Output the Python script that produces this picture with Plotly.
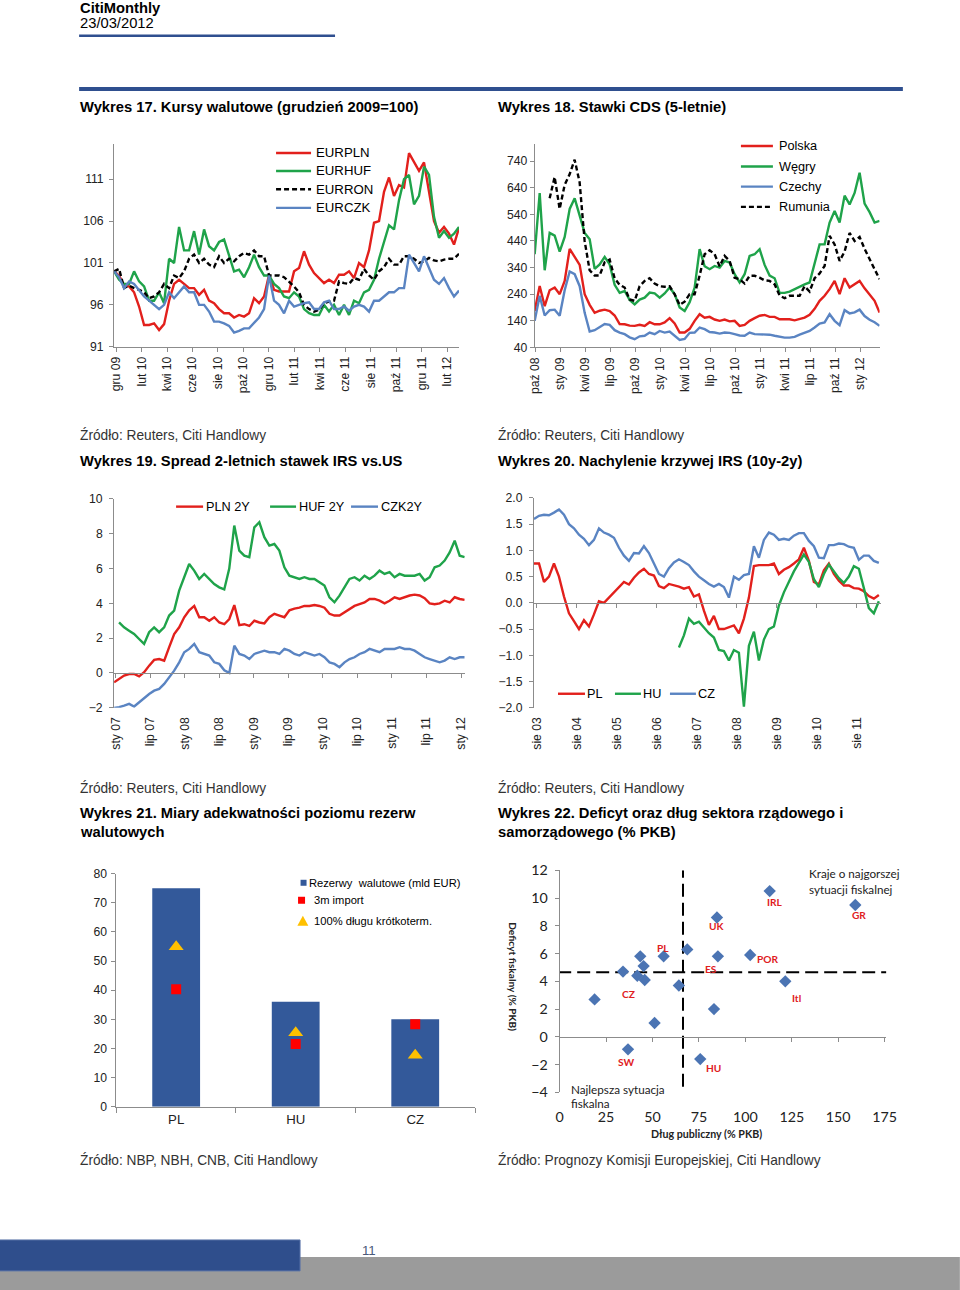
import numpy as np
import plotly.graph_objects as go

W, H = 960, 1290
# the photographed page is padded by 8px and scaled to 960x1290: pre-compensate
SX, SY = 960 / 976, 1290 / 1306
def X(px): return (px / SX - 8) / W
def Y(py): return 1 - (py / SY - 8) / H
K = 1 / SX
def F(s): return round(s * K, 2)

SANS = "Liberation Sans, Arial, sans-serif"
CAL = "Lato, Carlito, Calibri, sans-serif"
RED = "#E2201C"; GREEN = "#1FA34A"; BLUE = "#5A84C2"; BLK = "#000000"
NAVY = "#2F4F8F"; BARC = "#33599A"; AXC = "#8C8C8C"; TXT = "#222222"
LW = 2.4

# ---------------- DATA ----------------
# Wykres 17 (months since Dec 2009)
T17 = ["gru 09","lut 10","kwi 10","cze 10","sie 10","paź 10","gru 10","lut 11","kwi 11","cze 11","sie 11","paź 11","gru 11","lut 12"]
M17 = (-0.157, 26.94)
EURPLN = [100,99.5,98.3,98.2,97.5,95.8,93.6,93.6,93.8,93.0, 93.7,96.5,98.5,99.0,98.5,98.0,98.0,97.2,97.8,96.5,
          96.2,95.5,95.0,95.0,94.5,94.8,94.6,95.0,96.8,96.2, 97.0,99.6,97.8,97.6,97.6,97.6,100.0,100.4,102.4,100.8,
          99.8,99.2,98.6,99.0,98.6,99.6,99.6,100.0,99.2,101.0, 100.5,102.5,105.8,106.0,109.5,111.2,109.0,110.3,110.0,114.1,
          113.0,112.0,113.0,109.5,106.0,104.6,105.3,104.5,103.2,105.2]
EURHUF = [100,99,98.5,98.5,100,98.8,98.2,96.5,96.5,97.5, 96.2,101.5,101.0,105.3,102.5,102.5,104.8,102.0,105.0,103.0,
          102.5,103.5,103.8,102.0,100.0,100.2,99.3,100.5,102.0,100.5, 99.5,99.5,98.5,98.0,97.0,96.8,97.5,97.0,95.5,95.0,
          94.8,94.8,96.0,95.2,96.0,94.8,96.0,94.8,96.5,96.2, 97.5,97.8,99.0,101.5,103.5,105.5,105.0,108.5,111.0,111.5,
          108.0,109.0,112.5,111.5,106.5,104.0,104.8,104.0,104.5,105.3]
EURRON = [100,100.3,98.0,98.3,98.0,97.8,97.5,96.8,97.0,97.5, 98.5,98.0,99.5,99.2,100.0,101.5,102.0,101.0,101.5,100.8,
          100.5,101.8,101.0,101.5,101.2,101.8,102.2,102.0,102.5,101.8, 101.8,99.5,99.5,99.5,99.3,98.8,98.2,97.5,96.0,95.5,
          95.2,95.4,96.2,96.4,96.5,98.8,98.6,98.5,99.2,99.0, 100.3,99.5,99.0,100.0,100.5,101.5,100.8,100.8,101.8,101.8,
          101.5,101.0,101.2,101.6,101.3,101.2,101.4,101.5,101.5,102.1]
EURCZK = [100,99.3,98.0,98.8,98.5,97.8,97.0,96.5,96.0,95.5, 96.0,97.5,96.8,97.5,98.2,97.5,97.5,96.0,96.0,95.2,
          94.0,94.0,93.8,93.5,92.7,92.9,93.2,93.2,93.8,94.5, 95.5,99.5,96.5,96.0,95.0,96.5,95.8,96.0,96.2,96.3,
          95.5,95.5,96.3,96.5,95.5,95.5,95.8,95.3,95.8,96.0, 95.8,95.2,96.5,96.5,97.0,97.5,97.5,98.0,98.0,102.0,
          101.0,100.0,101.8,100.5,99.0,98.5,99.2,98.0,97.0,97.7]

# Wykres 18 (months since Oct 2008)
T18 = ["paź 08","sty 09","kwi 09","lip 09","paź 09","sty 10","kwi 10","lip 10","paź 10","sty 11","kwi 11","lip 11","paź 11","sty 12"]
M18 = (-0.096, 41.32)
M18_RO_START = 1.70
POLSKA = [177,271,195,255,265,240,290,410,380,350,240,200,170,178,182,177,160,128,127,122,121,125,121,135,127,127,134,150,130,96,96,110,140,165,152,
          155,145,140,145,138,140,121,125,140,150,159,162,155,155,146,146,146,142,146,152,163,185,215,234,259,290,240,300,265,277,290,262,240,215,171]
WEGRY = [390,620,330,470,460,400,455,560,600,534,470,446,335,352,380,352,275,245,252,218,202,220,227,246,243,227,243,265,240,190,177,210,265,409,345,
         334,346,340,365,359,315,284,315,384,390,409,350,310,300,245,245,250,260,270,277,284,360,427,427,509,552,509,610,577,620,696,580,548,509,515]
CZECHY = [140,234,160,180,182,159,255,325,315,270,170,100,105,115,128,125,105,96,90,78,71,82,84,96,90,102,96,100,85,68,72,95,96,115,109,
          98,96,92,96,95,90,85,84,96,90,90,90,88,84,80,77,77,80,88,95,102,115,130,134,165,140,124,180,168,172,182,158,144,135,121]
RUMUNIA = [600,680,560,650,690,745,660,440,330,310,310,360,370,300,275,265,220,215,270,290,300,280,270,268,270,240,200,212,240,240,310,390,
           405,390,345,384,365,302,296,280,309,309,302,292,290,277,235,225,234,234,234,270,250,300,318,346,459,427,365,400,470,440,455,410,370,335,296]

# Wykres 19 (months since Jan 2007)
T19 = ["sty 07","lip 07","sty 08","lip 08","sty 09","lip 09","sty 10","lip 10","sty 11","lip 11","sty 12"]
M19 = (-0.26, 60.63)
M19_HUF_START = 0.6
PLN2Y = [-0.54,-0.34,-0.15,-0.06,-0.06,-0.2,0.04,0.42,0.75,0.8, 0.7,1.48,2.24,2.62,3.2,3.6,3.85,3.2,3.2,3.0,
         3.2,2.9,2.8,3.1,3.9,2.75,2.8,2.7,3.0,2.9, 2.85,3.2,3.4,3.3,3.2,3.6,3.7,3.75,3.85,3.85,
         3.9,3.85,3.75,3.4,3.3,3.3,3.5,3.7,3.85,3.95, 4.05,4.25,4.25,4.15,4.0,4.15,4.35,4.25,4.35,4.45,
         4.5,4.45,4.3,4.0,3.95,4.0,4.15,4.05,4.35,4.25,4.2]
HUF2Y = [2.91,2.62,2.43,2.24,1.95,1.67,2.34,2.62,2.34, 2.62,3.30,3.58,4.73,5.50,6.26,5.88,5.40,5.69,5.40,
         5.11,4.92,4.8,6.0,8.47,7.03,6.74,6.65,8.37,8.66, 7.80,7.32,7.41,7.03,6.07,5.59,5.50,5.40,5.50,5.40,
         5.40,5.21,5.02,4.35,4.06,4.44,4.92,5.40,5.50,5.31, 5.59,5.40,5.59,5.88,5.69,5.79,5.50,5.69,5.59,5.59,
         5.59,5.69,5.31,5.50,6.07,6.17,6.46,6.93,7.60,6.74, 6.65]
CZK2Y = [-2.01,-1.97,-1.88,-1.78,-1.93,-1.69,-1.40,-1.21,-1.02,-0.92, -0.63,-0.25,0.13,0.61,1.19,1.38,1.67,1.19,1.09,1.00,
         0.61,0.52,0.15,0.0,1.57,1.09,1.00,0.80,1.09,1.19, 1.28,1.19,1.19,1.09,1.38,1.28,1.09,1.00,1.19,1.09,
         1.00,1.09,0.90,0.61,0.52,0.33,0.61,0.80,0.90,1.09, 1.19,1.38,1.28,1.19,1.38,1.38,1.38,1.48,1.38,1.38,
         1.28,1.09,0.90,0.80,0.71,0.61,0.71,0.90,0.80,0.90, 0.90]

# Wykres 20 (months since Aug 2003)
T20 = ["sie 03","sie 04","sie 05","sie 06","sie 07","sie 08","sie 09","sie 10","sie 11"]
M20 = (-0.84, 102.66)
M20_RANGE_END = 103.18
M20_HU_START = 42.66
PL = [0.75,0.75,0.4,0.5,0.75,0.5,0.12,-0.2,-0.35,-0.5, -0.33,-0.45,-0.22,0.03,0.0,0.1,0.2,0.28,0.4,0.35,
      0.48,0.58,0.65,0.55,0.52,0.32,0.28,0.36,0.34,0.31, 0.27,0.3,0.12,0.16,-0.15,-0.42,-0.25,-0.5,-0.5,-0.46,
      -0.43,-0.58,-0.3,0.1,0.7,0.72,0.72,0.72,0.75,0.55, 0.63,0.68,0.75,0.83,1.05,0.8,0.4,0.35,0.62,0.75,
      0.55,0.42,0.33,0.33,0.28,0.27,0.22,0.13,0.08,0.15]
CZ = [1.6,1.66,1.68,1.67,1.72,1.78,1.68,1.5,1.42,1.3, 1.22,1.1,1.2,1.42,1.34,1.3,1.24,1.05,0.9,0.8,
      0.95,0.94,1.08,0.95,0.75,0.55,0.5,0.66,0.77,0.83, 0.78,0.72,0.6,0.5,0.43,0.36,0.31,0.36,0.3,0.1,
      0.5,0.44,0.53,0.55,1.08,0.86,1.2,1.34,1.3,1.2, 1.22,1.2,1.28,1.33,1.33,1.18,1.08,0.86,0.85,1.1,
      1.1,1.13,1.12,1.07,1.05,0.82,0.9,0.9,0.8,0.76]
HU = [-0.85,-0.62,-0.3,-0.4,-0.36,-0.48,-0.58,-0.66,-0.9,-0.92, -1.1,-0.9,-0.95,-1.98,-0.82,-0.55,-1.1,-0.7,-0.5,-0.45,
      -0.05,0.2,0.4,0.6,0.76,0.92,0.78,0.45,0.3,0.55, 0.73,0.6,0.47,0.38,0.5,0.7,0.65,0.28,-0.1,-0.2, 0.03]

# Wykres 21
CATS21 = ["PL", "HU", "CZ"]
REZERWY = [75, 36, 30]
IMPORT3M = [40.3, 21.5, 28.3]
DLUG_KROTKI = [54.9, 25.4, 17.7]

# Wykres 22
DLUG = [18.8, 34.1, 41.8, 43.4, 45.2, 45.8, 51.1, 56.0, 36.8, 64.2, 68.7, 75.7, 83.1, 84.7, 85.2, 102.6, 113.1, 121.5, 159.2]
DEFICYT = [2.7, 4.7, 4.4, 5.8, 5.1, 4.1, 1.0, 5.8, -0.9, 3.7, 6.3, -1.6, 2.0, 8.6, 5.8, 5.9, 10.5, 4.0, 9.5]
DLUG_PROG = 66.4
DEFICYT_PROG = 4.65
# ----------------------------------------

fig = go.Figure()
shapes, annots = [], []

def add_line(vals, x0, x1, color, xa, ya, dash="solid", width=LW):
    fig.add_trace(go.Scatter(x=np.linspace(x0, x1, len(vals)), y=vals, mode="lines",
                             line=dict(color=color, width=width, dash=dash),
                             xaxis=xa, yaxis=ya, showlegend=False, hoverinfo="skip"))

def dummy(xa, ya):
    fig.add_trace(go.Scatter(x=[None], y=[None], xaxis=xa, yaxis=ya, showlegend=False, hoverinfo="skip"))

def txt(x, y, s, size, bold=False, color="#000", anchor="left", family=SANS, angle=0):
    annots.append(dict(xref="paper", yref="paper", x=X(x), y=Y(y), text=f"<b>{s}</b>" if bold else s,
                       showarrow=False, xanchor=anchor, yanchor="middle", textangle=angle,
                       font=dict(family=family, size=F(size), color=color), borderpad=0))

def seg(x0, x1, y, color, dash="solid", width=LW):
    shapes.append(dict(type="line", xref="paper", yref="paper", x0=X(x0), x1=X(x1), y0=Y(y), y1=Y(y),
                       line=dict(color=color, width=width, dash=dash)))

def rect(x0, y0, x1, y1, color, line=None):
    shapes.append(dict(type="rect", xref="paper", yref="paper", x0=X(x0), x1=X(x1), y0=Y(y1), y1=Y(y0),
                       fillcolor=color, line=line or dict(width=0), layer="below"))

DASH = "5px,3px"
# chart 17
add_line(EURPLN, *M17, RED, "x", "y")
add_line(EURHUF, *M17, GREEN, "x", "y")
add_line(EURRON, *M17, BLK, "x", "y", dash=DASH)
add_line(EURCZK, *M17, BLUE, "x", "y")
# chart 18
add_line(POLSKA, *M18, RED, "x2", "y2")
add_line(WEGRY, *M18, GREEN, "x2", "y2")
add_line(CZECHY, *M18, BLUE, "x2", "y2")
add_line(RUMUNIA, M18_RO_START, M18[1], BLK, "x2", "y2", dash=DASH)
# chart 19
add_line(PLN2Y, *M19, RED, "x3", "y3")
add_line(HUF2Y, M19_HUF_START, M19[1], GREEN, "x3", "y3")
add_line(CZK2Y, *M19, BLUE, "x3", "y3")
dummy("x7", "y3")
# chart 20
add_line(PL, *M20, RED, "x4", "y4")
add_line(HU, M20_HU_START, M20[1], GREEN, "x4", "y4")
add_line(CZ, *M20, BLUE, "x4", "y4")
dummy("x8", "y4")
# chart 21
fig.add_trace(go.Bar(x=CATS21, y=REZERWY, width=0.4, marker=dict(color=BARC, line=dict(width=0)),
                     xaxis="x5", yaxis="y5", showlegend=False, hoverinfo="skip"))
fig.add_trace(go.Scatter(x=CATS21, y=IMPORT3M, mode="markers", marker=dict(symbol="square", size=10, color="#FF0000"),
                         xaxis="x5", yaxis="y5", showlegend=False, hoverinfo="skip"))
fig.add_trace(go.Scatter(x=CATS21, y=DLUG_KROTKI, mode="markers", marker=dict(symbol="triangle-up", size=13, color="#FFC000"),
                         xaxis="x5", yaxis="y5", showlegend=False, hoverinfo="skip"))
# chart 22
fig.add_trace(go.Scatter(x=[DLUG_PROG, DLUG_PROG], y=[-3.6, 12.0], mode="lines", line=dict(color=BLK, width=2, dash="13px,6px"),
                         xaxis="x6", yaxis="y6", showlegend=False, hoverinfo="skip", cliponaxis=False))
fig.add_trace(go.Scatter(x=[-0.8, 175.9], y=[DEFICYT_PROG, DEFICYT_PROG], mode="lines", line=dict(color=BLK, width=2, dash="13px,6px"),
                         xaxis="x6", yaxis="y6", showlegend=False, hoverinfo="skip", cliponaxis=False))
fig.add_trace(go.Scatter(x=DLUG, y=DEFICYT, mode="markers", marker=dict(symbol="diamond", size=9.5, color="#4B74B3"),
                         xaxis="x6", yaxis="y6", showlegend=False, hoverinfo="skip", cliponaxis=False))
dummy("x9", "y6")

LAB22 = [("IRL", 115.7, 9.69), ("GR", 161.0, 8.75), ("UK", 84.7, 8.0), ("PL", 55.6, 6.41), ("POR", 111.8, 5.6),
         ("ES", 81.7, 4.87), ("CZ", 37.2, 3.08), ("Itl", 127.4, 2.8), ("SW", 35.9, -1.83), ("HU", 82.6, -2.22)]
for s, lx, ly in LAB22:
    annots.append(dict(xref="x6", yref="y6", x=lx, y=ly, text=f"<b>{s}</b>", showarrow=False,
                       font=dict(family=CAL, size=F(10), color="#E0201E")))

def ax(domain, rng, **kw):
    d = dict(domain=domain, range=rng, showgrid=False, zeroline=False, showline=True, linecolor=AXC, linewidth=1,
             ticks="outside", ticklen=4, tickcolor=AXC, tickfont=dict(family=SANS, size=F(12), color=TXT), fixedrange=True)
    d.update(kw)
    return d

def zero_pos(dom, rng):
    return dom[0] + (0 - rng[0]) / (rng[1] - rng[0]) * (dom[1] - dom[0])

d3y = [Y(707.3), Y(498.3)]; r3y = [-2, 10]
d4y = [Y(707.3), Y(497.3)]; r4y = [-2, 2]
d6y = [Y(1092.3), Y(870)]; r6y = [-4, 12]
d3x = [X(116), X(466.7)]; r3x = [M19[0], M19[1]]
d4x = [X(536), X(882.7)]; r4x = [M20[0], M20_RANGE_END]
d6x = [X(561.7), X(888.6)]; r6x = [0, 176]

fig.update_layout(
    width=W, height=H, margin=dict(l=0, r=0, t=0, b=0), paper_bgcolor="white", plot_bgcolor="white",
    xaxis=ax([X(116), X(461)], list(M17), anchor="y", tickvals=list(range(0, 27, 2)), ticktext=T17, tickangle=-90),
    yaxis=ax([Y(346), Y(143)], [91, 115.2], anchor="x", tickvals=[91, 96, 101, 106, 111], ticklabelstandoff=3),
    xaxis2=ax([X(536.7), X(881.7)], list(M18), anchor="y2", tickvals=list(range(0, 40, 3)), ticktext=T18, tickangle=-90),
    yaxis2=ax([Y(346.7), Y(143)], [40, 804], anchor="x2", tickvals=list(range(40, 741, 100))),
    xaxis3=ax(d3x, r3x, anchor="y3", tickvals=list(range(0, 61, 6)), ticktext=T19, tickangle=-90,
              showline=False, ticks="", ticklabelstandoff=6),
    yaxis3=ax(d3y, r3y, anchor="x3", tickvals=[-2, 0, 2, 4, 6, 8, 10], ticklabelstandoff=4),
    xaxis7=ax(d3x, r3x, overlaying="x3", anchor="free", position=zero_pos(d3y, r3y),
              tickvals=list(range(0, 61, 6)), showticklabels=False),
    xaxis4=ax(d4x, r4x, anchor="y4", tickvals=list(range(0, 97, 12)), ticktext=T20, tickangle=-90,
              showline=False, ticks="", ticklabelstandoff=6),
    yaxis4=ax(d4y, r4y, anchor="x4", tickvals=[-2, -1.5, -1, -0.5, 0, 0.5, 1, 1.5, 2], tickformat=".1f", ticklabelstandoff=4),
    xaxis8=ax(d4x, r4x, overlaying="x4", anchor="free", position=zero_pos(d4y, r4y),
              tickvals=list(range(0, 97, 12)), showticklabels=False),
    xaxis5=ax([X(118.3), X(477)], [-0.5, 2.5], anchor="y5", type="category", tickson="boundaries", ticklen=5,
              tickfont=dict(family=SANS, size=F(13), color=TXT)),
    yaxis5=ax([Y(1106.7), Y(873.3)], [0, 80], anchor="x5", dtick=10, ticklabelstandoff=2),
    xaxis6=ax(d6x, r6x, anchor="y6", showline=False, ticks="", tickvals=list(range(0, 176, 25)),
              tickfont=dict(family=CAL, size=F(14), color=TXT), ticklabelstandoff=14),
    yaxis6=ax(d6y, r6y, anchor="x6", dtick=2, tickfont=dict(family=CAL, size=F(14), color=TXT), ticklabelstandoff=4),
    xaxis9=ax(d6x, r6x, overlaying="x6", anchor="free", position=zero_pos(d6y, r6y),
              tickvals=list(range(0, 176, 25)), showticklabels=False),
)

# header
txt(81, 7, "CitiMonthly", 14.5, bold=True)
txt(81, 22, "23/03/2012", 14.5)
rect(81, 33.5, 337, 36, NAVY)
rect(81, 86, 905, 90, NAVY)
# titles
txt(81, 106, "Wykres 17. Kursy walutowe (grudzień 2009=100)", 14.5, bold=True)
txt(499, 106, "Wykres 18. Stawki CDS (5-letnie)", 14.5, bold=True)
txt(81, 434, "Źródło: Reuters, Citi Handlowy", 13.5, color="#333")
txt(499, 434, "Źródło: Reuters, Citi Handlowy", 13.5, color="#333")
txt(81, 460, "Wykres 19. Spread 2-letnich stawek IRS vs.US", 14.5, bold=True)
txt(499, 460, "Wykres 20. Nachylenie krzywej IRS (10y-2y)", 14.5, bold=True)
txt(81, 788, "Źródło: Reuters, Citi Handlowy", 13.5, color="#333")
txt(499, 788, "Źródło: Reuters, Citi Handlowy", 13.5, color="#333")
txt(81, 813, "Wykres 21. Miary adekwatności poziomu rezerw", 14.5, bold=True)
txt(81, 832, "walutowych", 14.5, bold=True)
txt(499, 813, "Wykres 22. Deficyt oraz dług sektora rządowego i", 14.5, bold=True)
txt(499, 832, "samorządowego (% PKB)", 14.5, bold=True)
txt(81, 1160, "Źródło: NBP, NBH, CNB, Citi Handlowy", 13.5, color="#333")
txt(499, 1160, "Źródło: Prognozy Komisji Europejskiej, Citi Handlowy", 13.5, color="#333")

# legend 17
for (lab, col, dsh), yy in zip([("EURPLN", RED, "solid"), ("EURHUF", GREEN, "solid"), ("EURRON", BLK, DASH), ("EURCZK", BLUE, "solid")],
                               [152, 170, 188.3, 207]):
    seg(278, 313, yy, col, dsh)
    txt(317, yy, lab, 13)
# legend 18
for (lab, col, dsh), yy in zip([("Polska", RED, "solid"), ("Węgry", GREEN, "solid"), ("Czechy", BLUE, "solid"), ("Rumunia", BLK, DASH)],
                               [145, 165.5, 185.7, 206]):
    seg(743, 775, yy, col, dsh)
    txt(780, yy, lab, 12.5)
# legend 19
for lab, col, a, b in [("PLN 2Y", RED, 178, 205), ("HUF 2Y", GREEN, 272, 298), ("CZK2Y", BLUE, 353, 380)]:
    seg(a, b, 506, col)
    txt(b + 1.5, 506, lab, 12.5)
# legend 20
for lab, col, a, b in [("PL", RED, 560, 587), ("HU", GREEN, 617, 643), ("CZ", BLUE, 672, 698)]:
    seg(a, b, 693.3, col)
    txt(b + 1.5, 693.3, lab, 12.5)
# legend 21
rect(302.5, 879.5, 308.5, 885.5, BARC)
txt(310, 882.5, "Rezerwy  walutowe (mld EUR)", 11)
rect(300, 896.5, 307, 903.5, "#FF0000")
txt(315, 900, "3m import", 11)
shapes.append(dict(type="path", xref="paper", yref="paper",
                   path=f"M {X(299.3)},{Y(925.5)} L {X(310.3)},{Y(925.5)} L {X(304.8)},{Y(915.5)} Z",
                   fillcolor="#FFC000", line=dict(width=0)))
txt(315, 921, "100% długu krótkoterm.", 11)
# chart 22 texts
txt(810, 873, "Kraje o najgorszej", 11.5, family=CAL, color="#222")
txt(810, 889, "sytuacji fiskalnej", 11.5, family=CAL, color="#222")
txt(572, 1088.5, "Najlepsza sytuacja", 11.5, family=CAL, color="#222")
txt(572, 1102.5, "fiskalna", 11.5, family=CAL, color="#222")
txt(515, 977, "Deficyt fiskalny (% PKB)", 10, bold=True, family=CAL, color="#222", anchor="center", angle=90)
txt(709, 1133, "Dług publiczny (% PKB)", 10.5, bold=True, family=CAL, color="#222", anchor="center")

# footer
rect(-2, 1257, 962, 1292, "#9B9B9B")
rect(-2, 1240, 302, 1271, "#2F4E8C", line=dict(color="#5A74A8", width=1))
txt(371, 1251, "11", 13, color="#4A5A7A", anchor="center")

fig.update_layout(shapes=shapes, annotations=annots)
fig.write_html("out.html", config={"displayModeBar": False, "staticPlot": True},
               post_script="document.documentElement.style.margin='0';document.documentElement.style.overflow='hidden';"
                           "document.body.style.margin='0';document.body.style.padding='0';document.body.style.overflow='hidden';")
